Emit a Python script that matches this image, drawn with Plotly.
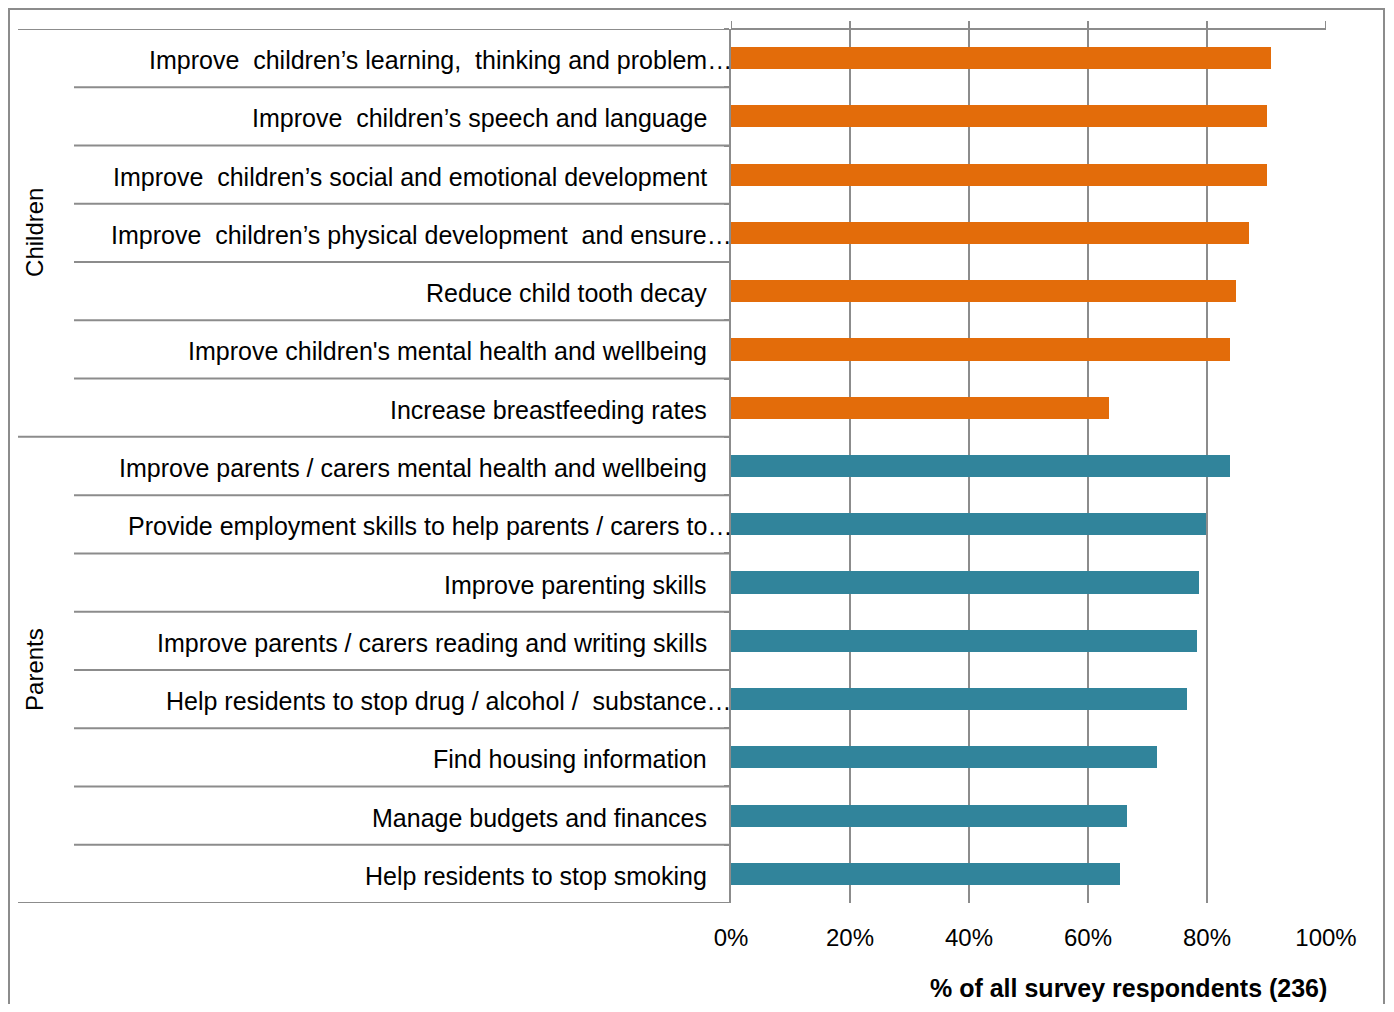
import plotly.graph_objects as go

# Survey data (% of all respondents, n=236)
children_labels = [
    "Improve\u00a0 children\u2019s learning,\u00a0 thinking and problem\u2026",
    "Improve\u00a0 children\u2019s speech and language",
    "Improve\u00a0 children\u2019s social and emotional development",
    "Improve\u00a0 children\u2019s physical development\u00a0 and ensure\u2026",
    "Reduce child tooth decay",
    "Improve children's mental health and wellbeing",
    "Increase breastfeeding rates",
]
children_values = [90.8, 90.1, 90.1, 87.1, 84.8, 83.8, 63.6]

parents_labels = [
    "Improve parents / carers mental health and wellbeing",
    "Provide employment skills to help parents / carers to\u2026",
    "Improve parenting skills",
    "Improve parents / carers reading and writing skills",
    "Help residents to stop drug / alcohol /\u00a0 substance\u2026",
    "Find housing information",
    "Manage budgets and finances",
    "Help residents to stop smoking",
]
parents_values = [83.8, 79.8, 78.7, 78.4, 76.7, 71.6, 66.6, 65.3]

groups = ["Children", "Parents"]
x_ticks = [0, 20, 40, 60, 80, 100]
x_ticktext = ["0%", "20%", "40%", "60%", "80%", "100%"]
axis_title = "% of all survey respondents (236)"

ORANGE = "#E36C0A"
TEAL = "#31849B"
GRID = "#8C8C8C"
FONT = "Liberation Sans, Arial, sans-serif"

all_labels = children_labels + parents_labels
n = len(all_labels)

# figure sits 8px into the page, so work in figure pixels
W, H = 1378, 996
L, R, T, B = 723, 60, 21, 101
pw = W - L - R
ph = H - T - B


def px_to_paper_x(px):
    return (px - L) / pw


def px_to_paper_y(py):
    return (H - B - py) / ph


fig = go.Figure()

fig.add_trace(go.Bar(
    x=children_values, y=children_labels, orientation="h",
    marker=dict(color=ORANGE, line=dict(width=0)), width=0.38,
    hoverinfo="x+y",
))
fig.add_trace(go.Bar(
    x=parents_values, y=parents_labels, orientation="h",
    marker=dict(color=TEAL, line=dict(width=0)), width=0.38,
    hoverinfo="x+y",
))

shapes = []
annotations = []

# row labels at left of the axis
for lab in all_labels:
    truncated = lab.endswith("\u2026")
    annotations.append(dict(
        x=0, xref="paper", y=lab, yref="y", text=lab, showarrow=False,
        xanchor="right", yanchor="middle", xshift=3 if truncated else -22,
        yshift=-2,
        font=dict(family=FONT, size=25, color="black"),
    ))

# separators between rows (inner) and between groups (outer)
group_edges = {-0.5, len(children_labels) - 0.5, n - 0.5}
for k in range(n + 1):
    yb = k - 0.5
    x0 = px_to_paper_x(10) if yb in group_edges else px_to_paper_x(66)
    shapes.append(dict(type="line", xref="paper", yref="y", x0=x0, x1=0,
                       y0=yb, y1=yb, line=dict(color=GRID, width=2)))

# top border line of the plot
shapes.append(dict(type="line", xref="paper", yref="paper", x0=0, x1=1,
                   y0=1, y1=1, line=dict(color=GRID, width=2)))

# gridlines poke slightly above the top line
for t in x_ticks:
    shapes.append(dict(type="line", xref="x", yref="paper", x0=t, x1=t,
                       y0=1, y1=1 + 8 / ph, line=dict(color=GRID, width=2)))

# outer chart border
shapes.append(dict(type="rect", xref="paper", yref="paper",
                   x0=px_to_paper_x(1), x1=px_to_paper_x(W - 2),
                   y0=px_to_paper_y(H + 10), y1=px_to_paper_y(1),
                   line=dict(color=GRID, width=2), fillcolor="rgba(0,0,0,0)",
                   layer="below"))

# group labels
group_sizes = [len(children_labels), len(parents_labels)]
start = 0
for g, size in zip(groups, group_sizes):
    mid = start + (size - 1) / 2
    annotations.append(dict(
        x=px_to_paper_x(27), xref="paper", y=mid, yref="y", text=g,
        showarrow=False, textangle=-90, xanchor="center", yanchor="middle",
        font=dict(family=FONT, size=24, color="black"),
    ))
    start += size

# x axis title
annotations.append(dict(
    x=1, xref="paper", y=px_to_paper_y(980), yref="paper",
    text="<b>" + axis_title + "</b>",
    showarrow=False, xanchor="right", yanchor="middle", xshift=3,
    font=dict(family=FONT, size=25, color="black"),
))

fig.update_layout(
    width=W, height=H,
    margin=dict(l=L, r=R, t=T, b=B, pad=0),
    paper_bgcolor="white", plot_bgcolor="white",
    barmode="overlay", showlegend=False,
    bargap=0,
    xaxis=dict(
        range=[0, 100], tickvals=x_ticks, ticktext=x_ticktext,
        showgrid=True, gridcolor=GRID, gridwidth=2,
        showline=False, zeroline=False, ticks="",
        ticklabelstandoff=18,
        tickfont=dict(family=FONT, size=24, color="black"),
    ),
    yaxis=dict(
        type="category", categoryorder="array", categoryarray=all_labels,
        range=[n - 0.5, -0.5], showticklabels=False,
        showgrid=False, zeroline=False,
        showline=True, linecolor=GRID, linewidth=2,
        ticks="outside", ticklen=5, tickwidth=2, tickcolor=GRID,
        tickson="boundaries",
    ),
    shapes=shapes, annotations=annotations,
)

fig.write_html("out.html")
